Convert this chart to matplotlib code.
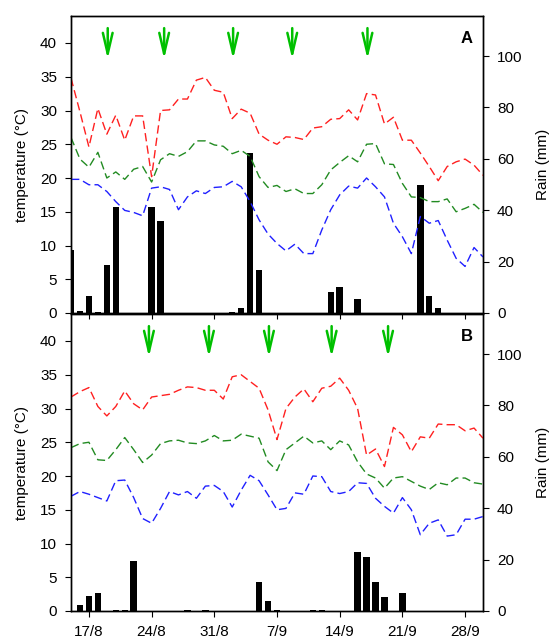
import matplotlib
matplotlib.use("Agg")
import matplotlib.pyplot as plt
import numpy as np

plt.rcParams['font.family'] = ['Liberation Sans', 'DejaVu Sans']

# days relative to 17/8 (day 0); data from 15/8 (day -2) to 30/9 (day 44)
days = np.arange(-2, 45)

tick_days = [0, 7, 14, 21, 28, 35, 42]
tick_labels = ['17/8', '24/8', '31/8', '7/9', '14/9', '21/9', '28/9']

# Panel A
tmax_A = [34.8, 29.8, 24.6, 30.3, 26.5, 29.3, 25.6, 29.2, 29.2, 20.2, 30.0, 30.1,
          31.7, 31.7, 34.5, 34.9, 33.0, 32.7, 28.8, 30.2, 29.6, 26.5, 25.6, 25.0,
          26.1, 26.0, 25.7, 27.4, 27.6, 28.7, 28.8, 30.1, 28.6, 32.5, 32.3, 28.0,
          29.0, 25.6, 25.6, 23.7, 21.7, 19.6, 21.7, 22.4, 22.8, 21.9, 20.4]
tmean_A = [26.0, 22.8, 21.6, 23.8, 20.0, 20.9, 19.8, 21.3, 21.7, 19.4, 22.7, 23.6,
           23.2, 23.9, 25.5, 25.5, 24.9, 24.7, 23.6, 24.1, 23.2, 20.2, 18.6, 18.9,
           18.0, 18.4, 17.7, 17.7, 19.0, 21.2, 22.3, 23.3, 22.4, 25.0, 25.1, 22.1,
           22.0, 19.2, 17.2, 17.1, 16.5, 16.5, 16.9, 15.0, 15.5, 16.1, 14.9]
tmin_A = [19.8, 19.8, 19.0, 19.0, 18.0, 16.5, 15.2, 14.9, 14.4, 18.5, 18.7, 18.3,
          15.3, 17.2, 18.1, 17.7, 18.6, 18.7, 19.5, 18.7, 16.5, 13.8, 11.7, 10.3,
          9.2, 10.2, 8.8, 8.8, 12.3, 15.3, 17.5, 18.8, 18.5, 20.0, 18.7, 17.2,
          13.3, 11.3, 8.8, 14.3, 13.3, 13.7, 10.8, 8.1, 6.9, 9.7, 8.3]
rain_A = [24.5, 0.9, 6.6, 0.4, 18.6, 41.4, 0, 0, 0, 41.1, 35.8, 0,
          0, 0, 0, 0, 0, 0, 0.3, 1.8, 62.1, 16.7, 0, 0,
          0, 0, 0, 0, 0, 8.3, 10.0, 0, 5.6, 0, 0, 0,
          0, 0, 0, 49.7, 6.6, 2.1, 0, 0, 0, 0, 0]
arrows_A = [2.1, 8.4, 16.1, 22.7, 31.1]

# Panel B
tmax_B = [31.7, 32.5, 33.1, 30.3, 28.9, 30.3, 32.6, 30.7, 29.8, 31.7, 31.9, 32.1,
          32.7, 33.2, 33.1, 32.7, 32.7, 31.4, 34.7, 35.0, 34.0, 33.0, 29.8, 25.4,
          30.0, 31.7, 32.9, 31.0, 33.0, 33.3, 34.5, 32.7, 30.0, 23.1, 24.0, 21.4,
          27.2, 26.1, 23.6, 25.8, 25.6, 27.7, 27.6, 27.6, 26.7, 27.1, 25.6]
tmean_B = [24.2, 24.8, 25.0, 22.4, 22.3, 23.9, 25.7, 23.9, 22.0, 23.1, 24.8, 25.2,
           25.3, 24.9, 24.8, 25.2, 26.0, 25.2, 25.3, 26.2, 25.9, 25.6, 22.1, 20.8,
           23.9, 24.9, 25.9, 24.9, 25.2, 23.9, 25.2, 24.6, 22.1, 20.3, 19.7, 18.2,
           19.7, 19.9, 19.2, 18.5, 18.0, 19.0, 18.7, 19.7, 19.7, 19.0, 18.8]
tmin_B = [17.0, 17.7, 17.3, 16.8, 16.3, 19.3, 19.4, 16.8, 13.7, 13.0, 15.2, 17.7,
          17.2, 17.7, 16.7, 18.5, 18.6, 17.7, 15.4, 17.9, 20.1, 19.3, 17.2, 15.0,
          15.2, 17.5, 17.3, 20.0, 19.9, 17.7, 17.4, 17.7, 19.0, 18.9, 16.7, 15.5,
          14.5, 16.8, 15.0, 11.3, 13.0, 13.5, 11.1, 11.3, 13.6, 13.6, 14.0]
rain_B = [0, 2.3, 5.8, 7.0, 0, 0.3, 0.5, 19.5, 0, 0, 0, 0,
          0, 0.5, 0, 0.5, 0, 0, 0, 0, 0, 11.2, 4.0, 0.3,
          0, 0, 0, 0.3, 0.5, 0, 0, 0, 22.8, 20.9, 11.2, 5.6,
          0, 6.9, 0, 0, 0, 0, 0, 0, 0, 0, 0]
arrows_B = [6.7, 13.4, 20.1, 27.1, 33.4]

TMAX = 44.0
RMAX = 115.6

fig = plt.figure(figsize=(5.5, 6.39), dpi=100)
W, H = 550.0, 639.0
boxes = [(71 / W, 1 - 313 / H, 412 / W, 297 / H),
         (71 / W, 1 - 611 / H, 412 / W, 297 / H)]

panels = [(tmax_A, tmean_A, tmin_A, rain_A, arrows_A, 'A'),
          (tmax_B, tmean_B, tmin_B, rain_B, arrows_B, 'B')]

dash = (0, (6, 3))
for i, (tx, tm, tn, rn, arr, lab) in enumerate(panels):
    ax = fig.add_axes(boxes[i])
    ax2 = ax.twinx()
    ax.set_zorder(ax2.get_zorder() + 1)
    ax.patch.set_visible(False)

    ax2.bar(days, rn, width=0.72, color='black', zorder=2)
    ax2.set_ylim(0, RMAX)
    ax2.set_yticks([0, 20, 40, 60, 80, 100])
    ax2.set_ylabel('Rain (mm)', fontsize=11, labelpad=10)

    ax.plot(days, tx, color='#ff2020', lw=1.0, ls=dash)
    ax.plot(days, tm, color='#228b22', lw=1.0, ls=dash)
    ax.plot(days, tn, color='#2020ff', lw=1.0, ls=dash)
    for d in arr:
        ax.annotate('', xy=(d, 37.6), xytext=(d, 42.2),
                    arrowprops=dict(arrowstyle='->,head_length=1.5,head_width=0.35',
                                    color='#00c000', lw=1.8, shrinkA=0, shrinkB=0,
                                    mutation_scale=10))
    ax.set_ylim(0, TMAX)
    ax.set_xlim(-2, 44)
    ax.set_yticks(range(0, 45, 5))
    ax.set_xticks(tick_days)
    if i == 0:
        ax.set_xticklabels([])
    else:
        ax.set_xticklabels(tick_labels)
    ax.set_ylabel('temperature (°C)', fontsize=11, labelpad=8)
    ax.text(0.975, 0.925, lab, transform=ax.transAxes, fontsize=12,
            fontweight='bold', ha='right', va='center')
    for a in (ax, ax2):
        a.tick_params(direction='out', length=4, width=0.8, labelsize=11, pad=6)
        for s in a.spines.values():
            s.set_linewidth(1.0)

fig.savefig('out.png', dpi=100)
